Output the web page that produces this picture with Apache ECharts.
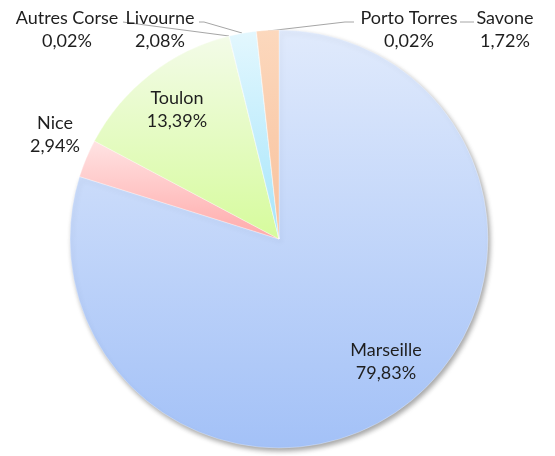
<!DOCTYPE html>
<html>
<head>
<meta charset="utf-8">
<script src="https://cdn.jsdelivr.net/npm/echarts@6/dist/echarts.min.js"></script>
<style>
	html, body { margin: 0; padding: 0; background: #ffffff; }
	#chart { width: 555px; height: 456px; }
</style>
</head>
<body>
<div id="chart"></div>
<script>
// ports, clockwise from 12 o'clock
var ports = ["Marseille", "Nice", "Toulon", "Autres Corse", "Livourne", "Porto Torres", "Savone"];
// share of traffic, %
var shares = [79.83, 2.94, 13.39, 0.02, 2.08, 0.02, 1.72];

// gradient top / bottom per slice
var topColors = ["#e0eafc", "#ffe3e3", "#f3fbe8", "#e6e6e6", "#e3f7fe", "#e6e6e6", "#fcd8bd"];
var bottomColors = ["#a3c1f7", "#ffaaaa", "#d6fb9c", "#cccccc", "#a5e5fb", "#cccccc", "#f8c19c"];

// label centres (pixels) and leader lines
var labelPos = [[386, 362], [55, 135], [177, 110], [67, 30], [160, 30], [409, 30], [505, 30]];
var leaderLines = {
	3 : [[229, 36], [130, 23], [123, 22]],
	4 : [[242, 33], [204, 22], [199, 22]],
	5 : [[268, 31], [345, 22], [354, 22]],
	6 : [[460, 22], [466, 22], [474, 22]]
};

var chart = echarts.init(document.getElementById("chart"), null, { renderer : "canvas" });

var data = [];
for(var i = 0; i < ports.length; ++i){
	var item = {
		name : ports[i],
		value : shares[i],
		itemStyle : {
			color : new echarts.graphic.LinearGradient(0, 0, 0, 1, [
				{ offset : 0, color : topColors[i] },
				{ offset : 1, color : bottomColors[i] }
			])
		},
		labelLine : { show : leaderLines[i] != null }
	};
	if(i == 0){
		item.itemStyle.shadowColor = "rgba(0,0,0,0.35)";
		item.itemStyle.shadowBlur = 5;
		item.itemStyle.shadowOffsetX = 2;
		item.itemStyle.shadowOffsetY = 3;
	}
	data.push(item);
}

var option = {
	backgroundColor : "#ffffff",
	animation : false,
	series : [{
		type : "pie",
		center : [279, 239],
		radius : [0, 209],
		startAngle : 90,
		clockwise : true,
		avoidLabelOverlap : false,
		itemStyle : {
			borderWidth : 0.5,
			borderColor : "rgba(255,255,255,0.6)"
		},
		label : {
			show : true,
			position : "outside",
			color : "#1e1e1e",
			fontFamily : "Lato",
			fontSize : 18,
			lineHeight : 23,
			formatter : function(p){
				return p.name + "\n" + p.value.toFixed(2).replace(".", ",") + "%";
			}
		},
		labelLine : {
			show : true,
			lineStyle : { color : "#a6a6a6", width : 1 }
		},
		labelLayout : function(params){
			var i = params.dataIndex;
			var res = {
				x : labelPos[i][0],
				y : labelPos[i][1],
				align : "center",
				verticalAlign : "middle"
			};
			if(leaderLines[i]){
				res.labelLinePoints = leaderLines[i];
			}
			return res;
		},
		data : data
	}]
};

chart.setOption(option);
</script>
</body>
</html>
